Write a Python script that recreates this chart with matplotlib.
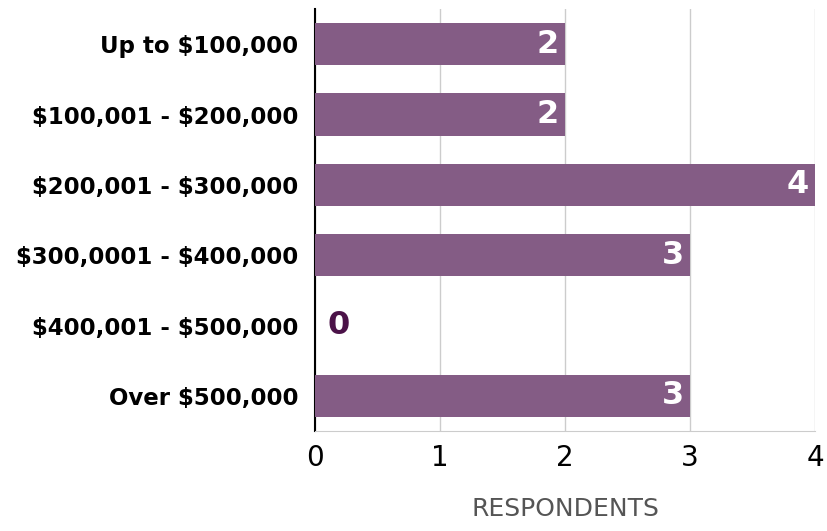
import numpy as np
import matplotlib.pyplot as plt

plt.rcParams['font.family'] = ['DejaVu Sans']

categories = ["Up to \\$100,000", "\\$100,001 - \\$200,000", "\\$200,001 - \\$300,000",
              "\\$300,0001 - \\$400,000", "\\$400,001 - \\$500,000", "Over \\$500,000"]
respondents = [2, 2, 4, 3, 0, 3]
xticks = [0, 1, 2, 3, 4]

bar_color = "#845c85"
zero_color = "#4b1248"

fig = plt.figure(figsize=(8.28, 5.31), dpi=100)
ax = fig.add_axes([0.3804, 0.1883, 0.6039, 0.7947])

y = np.arange(len(categories))
ax.barh(y, respondents, height=0.6, color=bar_color, zorder=3)

# value labels: white inside the bar, dark purple outside for zero
for yi, v in zip(y, respondents):
    if v > 0:
        ax.text(v - 0.05, yi, str(v), ha="right", va="center", color="white",
                fontsize=23, fontweight="bold", zorder=4)
    else:
        ax.text(0.1, yi, str(v), ha="left", va="center", color=zero_color,
                fontsize=23, fontweight="bold", zorder=4)

ax.set_xlim(0, 4)
ax.set_ylim(len(categories) - 0.5, -0.5)
ax.set_yticks(y)
ax.set_yticklabels(categories, fontsize=16.5, fontweight="bold")
ax.set_xticks(xticks)
ax.set_xticklabels([str(t) for t in xticks], fontsize=20)

ax.grid(axis="x", color="#cccccc", linewidth=1, zorder=0)
for s in ["top", "right"]:
    ax.spines[s].set_visible(False)
ax.spines["bottom"].set_color("#cccccc")
ax.spines["left"].set_color("black")
ax.spines["left"].set_linewidth(1.5)
ax.tick_params(axis="both", length=0)
ax.tick_params(axis="x", pad=9)
ax.tick_params(axis="y", pad=12)

ax.set_xlabel("RESPONDENTS", fontsize=18, color="#555555", labelpad=18)

fig.savefig("out.png", dpi=100)
